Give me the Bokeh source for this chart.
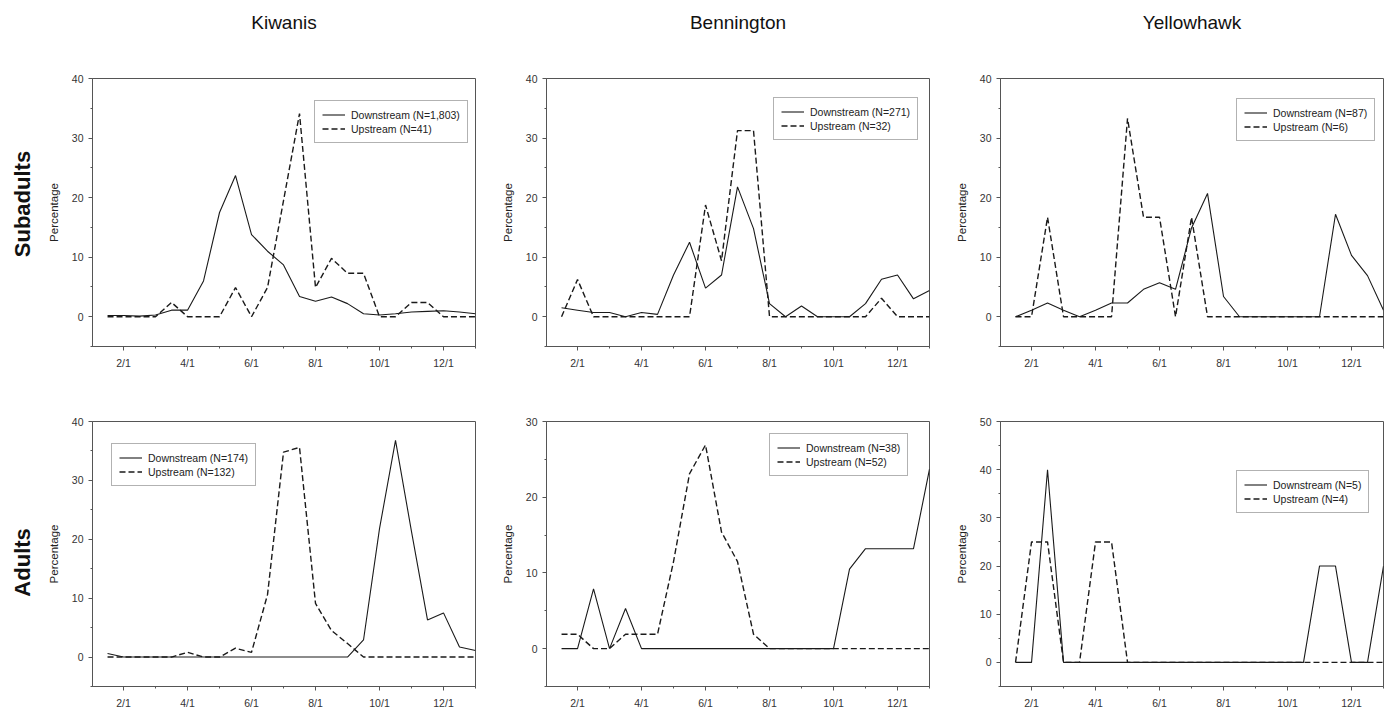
import math
from bokeh.plotting import figure
from bokeh.layouts import row, column
from bokeh.models import FixedTicker, Range1d, Legend, LegendItem, LinearAxis
from bokeh.core.properties import value
from bokeh.embed import file_html
from bokeh.resources import INLINE

# ---------------- data ----------------
months = [1.5, 2.0, 2.5, 3.0, 3.5, 4.0, 4.5, 5.0, 5.5, 6.0, 6.5, 7.0,
          7.5, 8.0, 8.5, 9.0, 9.5, 10.0, 10.5, 11.0, 11.5, 12.0, 12.5, 13.0]
x_tick_pos = [2, 4, 6, 8, 10, 12]
x_tick_labels = ["2/1", "4/1", "6/1", "8/1", "10/1", "12/1"]
x_minor_pos = [3, 5, 7, 9, 11, 13]

sites = ["Kiwanis", "Bennington", "Yellowhawk"]
stages = ["Subadults", "Adults"]

kiw_sub_down = [0.2, 0.2, 0.1, 0.3, 1.1, 1.1, 6.0, 17.5, 23.7, 13.8, 11.0, 8.7,
                3.4, 2.6, 3.3, 2.2, 0.5, 0.3, 0.5, 0.8, 0.9, 1.0, 0.8, 0.5]
kiw_sub_up = [0, 0, 0, 0, 2.4, 0, 0, 0, 4.9, 0, 4.9, 19.5,
              34.1, 4.9, 9.8, 7.3, 7.3, 0, 0, 2.4, 2.4, 0, 0, 0]
ben_sub_down = [1.5, 1.1, 0.7, 0.7, 0.0, 0.7, 0.4, 7.0, 12.5, 4.8, 7.0, 21.8,
                14.8, 2.2, 0.0, 1.8, 0.0, 0.0, 0.0, 2.2, 6.3, 7.0, 3.0, 4.4]
ben_sub_up = [0, 6.25, 0, 0, 0, 0, 0, 0, 0, 18.75, 9.4, 31.25,
              31.25, 0, 0, 0, 0, 0, 0, 0, 3.1, 0, 0, 0]
yel_sub_down = [0, 1.1, 2.3, 1.1, 0, 1.1, 2.3, 2.3, 4.6, 5.7, 4.6, 14.9,
                20.7, 3.4, 0, 0, 0, 0, 0, 0, 17.2, 10.3, 6.9, 1.1]
yel_sub_up = [0, 0, 16.7, 0, 0, 0, 0, 33.3, 16.7, 16.7, 0, 16.7,
              0, 0, 0, 0, 0, 0, 0, 0, 0, 0, 0, 0]

kiw_ad_down = [0.6, 0, 0, 0, 0, 0, 0, 0, 0, 0, 0, 0,
               0, 0, 0, 0, 2.9, 21.8, 36.8, 21.3, 6.3, 7.5, 1.7, 1.1]
kiw_ad_up = [0, 0, 0, 0, 0, 0.8, 0, 0, 1.5, 0.8, 10.6, 34.8,
             35.6, 9.1, 4.5, 2.3, 0, 0, 0, 0, 0, 0, 0, 0]
ben_ad_down = [0, 0, 7.9, 0, 5.3, 0, 0, 0, 0, 0, 0, 0,
               0, 0, 0, 0, 0, 0, 10.5, 13.2, 13.2, 13.2, 13.2, 23.7]
ben_ad_up = [1.9, 1.9, 0, 0, 1.9, 1.9, 1.9, 11.5, 23.1, 26.9, 15.4, 11.5,
             1.9, 0, 0, 0, 0, 0, 0, 0, 0, 0, 0, 0]
yel_ad_down = [0, 0, 40, 0, 0, 0, 0, 0, 0, 0, 0, 0,
               0, 0, 0, 0, 0, 0, 0, 20, 20, 0, 0, 20]
yel_ad_up = [0, 25, 25, 0, 0, 25, 25, 0, 0, 0, 0, 0,
             0, 0, 0, 0, 0, 0, 0, 0, 0, 0, 0, 0]

legend_down = ["Downstream (N=1,803)", "Downstream (N=271)", "Downstream (N=87)",
               "Downstream (N=174)", "Downstream (N=38)", "Downstream (N=5)"]
legend_up = ["Upstream (N=41)", "Upstream (N=32)", "Upstream (N=6)",
             "Upstream (N=132)", "Upstream (N=52)", "Upstream (N=4)"]

y_max = [40, 40, 40, 40, 30, 50]

# ---------------- styling / layout ----------------
FONT = "Liberation Sans"
LINE = "#1a1a1a"
AXIS = "#555555"
TXT = "#333333"

X_START = 1.03
X_END = 13.0

LABEL_COL_W = 44
col_left = [92 - LABEL_COL_W, 70, 70]
col_frame = [383, 383, 383]
col_right = [1, 1, 2]
row_top = [78, 41]
row_frame = [268, 267]
row_bottom = [34, 23]
row_h = [row_top[i] + row_frame[i] + row_bottom[i] for i in range(2)]
stage_center_from_top = [178, 176]

legend_pos = [(222, 203), (227, 206), (236, 205),
              (19, 200), (223, 210), (236, 173)]

series = [(kiw_sub_down, kiw_sub_up), (ben_sub_down, ben_sub_up), (yel_sub_down, yel_sub_up),
          (kiw_ad_down, kiw_ad_up), (ben_ad_down, ben_ad_up), (yel_ad_down, yel_ad_up)]


def title_axis(text, standoff):
    return LinearAxis(ticker=FixedTicker(ticks=[], minor_ticks=[]),
                      axis_line_color=None, major_tick_line_color=None,
                      minor_tick_line_color=None, major_tick_out=0, major_tick_in=0,
                      minor_tick_out=0, minor_tick_in=0, major_label_standoff=0,
                      axis_label=text, axis_label_standoff=standoff,
                      axis_label_text_font=FONT, axis_label_text_font_size="19px",
                      axis_label_text_font_style="normal", axis_label_text_color="#111111")


def stage_panel(r):
    h = row_h[r]
    p = figure(width=LABEL_COL_W, height=h, x_range=Range1d(0, LABEL_COL_W),
               y_range=Range1d(0, h), x_axis_type=None, y_axis_type=None,
               output_backend="svg", toolbar_location=None, title=None, min_border=0)
    p.xgrid.visible = False
    p.ygrid.visible = False
    p.outline_line_color = None
    p.background_fill_color = "white"
    p.border_fill_color = "white"
    p.text(x=[22], y=[h - stage_center_from_top[r]], text=[stages[r]], angle=math.pi / 2,
           text_align="center", text_baseline="middle", text_font=value(FONT),
           text_font_size="22px", text_font_style="bold", text_color="#111111")
    return p


def make_panel(idx):
    r, c = divmod(idx, 3)
    down, up = series[idx]
    ymax = y_max[idx]
    fw = col_frame[c]
    fh = row_frame[r]
    p = figure(width=col_left[c] + fw + col_right[c], height=row_h[r],
               x_range=Range1d(X_START, X_END), y_range=Range1d(-5, ymax),
               output_backend="svg", toolbar_location=None, title=None,
               min_border_left=col_left[c], min_border_right=col_right[c],
               min_border_top=row_top[r], min_border_bottom=row_bottom[r])
    p.xgrid.visible = False
    p.ygrid.visible = False
    p.outline_line_color = AXIS
    p.outline_line_width = 1
    p.background_fill_color = "white"
    p.border_fill_color = "white"

    p.xaxis.ticker = FixedTicker(ticks=x_tick_pos, minor_ticks=x_minor_pos)
    p.xaxis.major_label_overrides = {t: l for t, l in zip(x_tick_pos, x_tick_labels)}
    yt = list(range(0, ymax + 1, 10))
    ym = list(range(-5, ymax, 10))
    p.yaxis.ticker = FixedTicker(ticks=yt, minor_ticks=ym)
    p.yaxis.axis_label = "Percentage"
    p.yaxis.axis_label_text_font = FONT
    p.yaxis.axis_label_text_font_size = "11.5px"
    p.yaxis.axis_label_text_font_style = "normal"
    p.yaxis.axis_label_text_color = "#222222"
    p.yaxis.axis_label_standoff = 9
    p.yaxis.major_label_standoff = 5
    p.xaxis.major_label_standoff = 6
    for ax in (p.xaxis, p.yaxis):
        ax.axis_line_color = AXIS
        ax.major_tick_line_color = AXIS
        ax.minor_tick_line_color = AXIS
        ax.major_tick_in = 0
        ax.major_tick_out = 4
        ax.minor_tick_in = 0
        ax.minor_tick_out = 2
        ax.major_label_text_font = FONT
        ax.major_label_text_font_size = "10.5px"
        ax.major_label_text_color = TXT

    r1 = p.line(months, down, line_color=LINE, line_width=1.1)
    r2 = p.line(months, up, line_color=LINE, line_width=1.4, line_dash="6 3")

    legend = Legend(items=[LegendItem(label=legend_down[idx], renderers=[r1]),
                           LegendItem(label=legend_up[idx], renderers=[r2])],
                    location=legend_pos[idx], margin=0, padding=7, spacing=1,
                    glyph_width=23, glyph_height=13, label_height=13,
                    label_standoff=6, label_text_font=FONT,
                    label_text_font_size="10.5px", label_text_color="#222222",
                    border_line_color="#666666", border_line_width=1,
                    background_fill_color="white", background_fill_alpha=1.0)
    p.add_layout(legend)

    if r == 0:
        p.add_layout(title_axis(sites[c], 46), "above")
    return p


panels = [make_panel(i) for i in range(6)]
layout = column(row(stage_panel(0), *panels[:3]), row(stage_panel(1), *panels[3:]))

open("out.html", "w").write(file_html(layout, INLINE))
